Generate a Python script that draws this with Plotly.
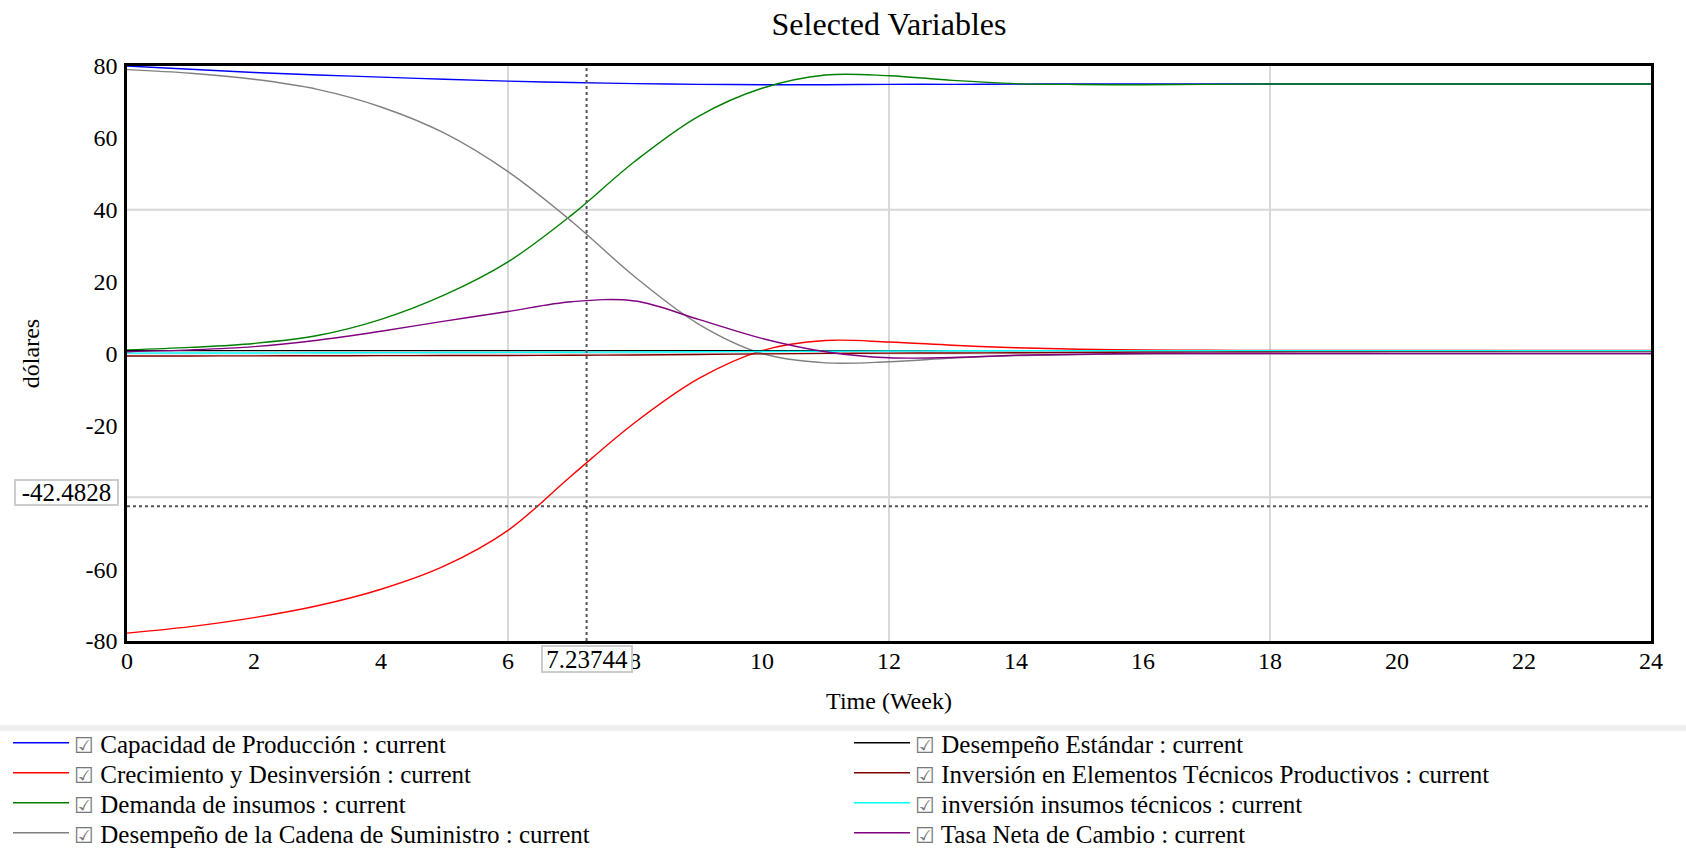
import plotly.graph_objects as go

# ---------------- data ----------------
time = list(range(0, 25))

capacidad = [80.0, 79.1, 78.2, 77.5, 76.9, 76.3, 75.8, 75.4, 75.1, 74.9, 74.8, 74.8, 74.9,
             74.9, 74.95, 75.0, 75.0, 75.0, 75.0, 75.0, 75.0, 75.0, 75.0, 75.0, 75.0]
crecimiento = [-77.8, -76.0, -73.5, -70.2, -65.6, -59.1, -49.2, -34.0, -19.2, -7.0, 0.8, 3.6,
               3.2, 2.3, 1.6, 1.2, 1.0, 0.9, 0.85, 0.85, 0.85, 0.85, 0.85, 0.85, 0.85]
demanda = [1.0, 1.7, 2.8, 5.0, 9.5, 16.3, 25.5, 38.5, 53.5, 66.0, 73.8, 77.5, 77.3, 76.0,
           75.1, 74.85, 74.8, 74.9, 75.0, 75.0, 75.0, 75.0, 75.0, 75.0, 75.0]
cadena = [79.0, 78.0, 76.3, 73.5, 68.6, 61.3, 50.6, 36.8, 21.3, 8.2, 0.0, -2.6, -2.3, -1.3,
          -0.6, -0.3, -0.1, 0.0, 0.0, 0.0, 0.0, 0.0, 0.0, 0.0, 0.0]
estandar = [0.8] * 25
inversion_elementos = [-0.7, -0.68, -0.66, -0.63, -0.6, -0.57, -0.54, -0.5, -0.4, -0.26, -0.1,
                       0.03, 0.1, 0.15, 0.2, 0.3, 0.4, 0.45, 0.5, 0.55, 0.6, 0.63, 0.66, 0.68,
                       0.7]
insumos_tecnicos = [0.1, 0.13, 0.16, 0.2, 0.23, 0.27, 0.3, 0.36, 0.4, 0.47, 0.55, 0.62, 0.7,
                    0.75, 0.8, 0.8, 0.8, 0.8, 0.8, 0.8, 0.8, 0.8, 0.8, 0.8, 0.8]
tasa = [0.5, 1.0, 1.9, 3.7, 6.2, 9.0, 11.7, 14.4, 14.6, 9.5, 4.2, 0.5, -1.2, -1.1, -0.5, -0.2,
        0.0, 0.0, 0.0, 0.0, 0.0, 0.0, 0.0, 0.0, 0.0]

names = ["Capacidad de Producción", "Crecimiento y Desinversión", "Demanda de insumos",
         "Desempeño de la Cadena de Suministro", "Desempeño Estándar",
         "Inversión en Elementos Técnicos Productivos", "inversión insumos técnicos",
         "Tasa Neta de Cambio"]
series = [capacidad, crecimiento, demanda, cadena, estandar, inversion_elementos,
          insumos_tecnicos, tasa]
colors = ["#0000ff", "#ff0000", "#008000", "#808080", "#000000", "#800000", "#00ffff", "#800080"]

x_ticks = list(range(0, 25, 2))
y_ticks = [-80, -60, -40, -20, 0, 20, 40, 60, 80]
y_ticktext = ["-80", "-60", "-40", "-20", "0", "20", "40", "60", "80"]
x_grid = [6, 12, 18]
y_grid = [-40, 0, 40]
cursor_x = 7.23744
cursor_y = -42.4828

FONT = "Liberation Serif, Times New Roman, serif"

# geometry (pixels) of the page
W, H = 1686, 853
ML, MR, MT, MB = 127, 35, 66, 212
PW = W - ML - MR
PH = H - MT - MB
bottom_px = H - MB


def px_x(p):
    return (p - ML) / PW


def px_y(p):
    return (bottom_px - p) / PH


legend_ids = ["legend"] + [f"legend{i}" for i in range(2, 9)]
row_centers = [743, 773, 803, 833]
col_origins = [8, 849]

fig = go.Figure()
for i, (nm, ys, col) in enumerate(zip(names, series, colors)):
    fig.add_trace(go.Scatter(
        x=time, y=ys, mode="lines",
        line=dict(color=col, width=1.4, shape="spline", smoothing=1.0),
        name='<span style="font-size:22px;color:#777777">☑</span> ' + nm + " : current",
        legend=legend_ids[i],
        hoverinfo="skip",
    ))

shapes = []
for gx in x_grid:
    shapes.append(dict(type="line", xref="x", yref="y", x0=gx, x1=gx, y0=-80, y1=80,
                       line=dict(color="#d8d8d8", width=2), layer="below"))
for gy in y_grid:
    shapes.append(dict(type="line", xref="x", yref="y", x0=0, x1=24, y0=gy, y1=gy,
                       line=dict(color="#d8d8d8", width=2), layer="below"))
# crosshair
shapes.append(dict(type="line", xref="x", yref="y", x0=cursor_x, x1=cursor_x, y0=-80, y1=80,
                   line=dict(color="#555555", width=2, dash="dot"), layer="above"))
shapes.append(dict(type="line", xref="x", yref="y", x0=0, x1=24, y0=cursor_y, y1=cursor_y,
                   line=dict(color="#555555", width=2, dash="dot"), layer="above"))
# legend separator band
shapes.append(dict(type="rect", xref="paper", yref="paper", x0=px_x(0), x1=px_x(W),
                   y0=px_y(731), y1=px_y(725), fillcolor="#efefef", line=dict(width=0)))

annotations = [
    dict(text=f"{cursor_y}", xref="paper", yref="y", x=0, y=cursor_y, xanchor="right",
         yanchor="bottom", xshift=-8, showarrow=False, bgcolor="white",
         bordercolor="#cccccc", borderwidth=2, borderpad=1, width=99, height=21,
         font=dict(family=FONT, size=25, color="black")),
    dict(text=f"{cursor_x}", xref="x", yref="paper", x=cursor_x, y=0, xanchor="center",
         yanchor="top", yshift=-4, showarrow=False, bgcolor="white",
         bordercolor="#cccccc", borderwidth=2, borderpad=1, width=86, height=22,
         font=dict(family=FONT, size=25, color="black")),
]

legends = {}
for i, lid in enumerate(legend_ids):
    col_i, row_i = divmod(i, 4)
    legends[lid] = dict(
        x=px_x(col_origins[col_i]), y=px_y(row_centers[row_i]),
        xanchor="left", yanchor="middle", orientation="v",
        font=dict(family=FONT, size=25, color="black"), bgcolor="rgba(0,0,0,0)",
        itemwidth=56, tracegroupgap=0, itemclick=False, itemdoubleclick=False,
    )

fig.update_layout(
    width=W, height=H,
    margin=dict(l=ML, r=MR, t=MT, b=MB, autoexpand=False),
    paper_bgcolor="white", plot_bgcolor="white",
    font=dict(family=FONT, size=24, color="black"),
    title=dict(text="Selected Variables", x=0.5, xref="paper", y=1 - 24 / H,
               yref="container", yanchor="middle", xanchor="center",
               font=dict(family=FONT, size=32, color="black")),
    xaxis=dict(range=[0, 24], tickvals=x_ticks, showgrid=False, zeroline=False,
               showline=True, mirror=True, linecolor="black", linewidth=2.5,
               ticks="", ticklabelstandoff=-4, automargin=False,
               tickfont=dict(family=FONT, size=24, color="black"),
               title=dict(text="Time (Week)", standoff=20,
                          font=dict(family=FONT, size=24, color="black"))),
    yaxis=dict(range=[-80, 80], tickvals=y_ticks, ticktext=y_ticktext, showgrid=False,
               zeroline=False, showline=True, mirror=True, linecolor="black", linewidth=2.5,
               ticks="", ticklabelstandoff=2, automargin=False,
               tickfont=dict(family=FONT, size=24, color="black"),
               title=dict(text="dólares", standoff=40,
                          font=dict(family=FONT, size=24, color="black"))),
    shapes=shapes,
    annotations=annotations,
    showlegend=True,
    **legends,
)

fig.write_html("out.html", config={"displayModeBar": False},
               post_script="document.body.style.margin='0';document.body.style.overflow='hidden';")
